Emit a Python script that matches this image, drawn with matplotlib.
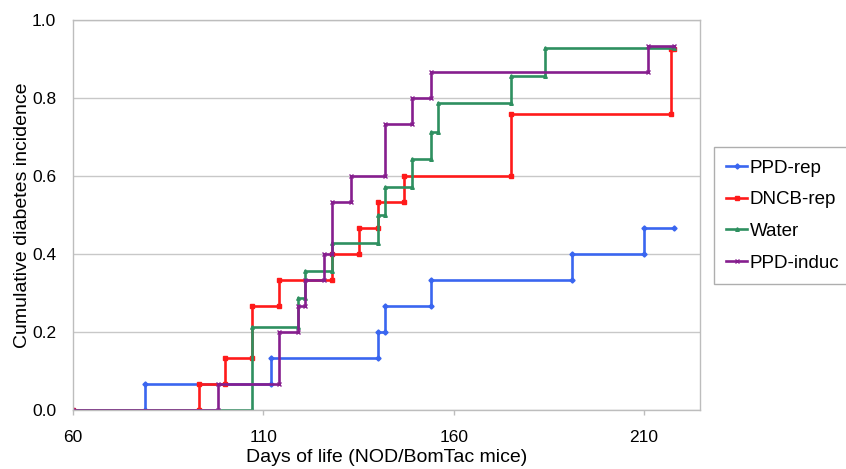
import matplotlib
matplotlib.use("Agg")
import matplotlib.pyplot as plt

plt.rcParams['font.family'] = ['Liberation Sans', 'DejaVu Sans']

start_day = 60
end_day = 218

series_names = ["PPD-rep", "DNCB-rep", "Water", "PPD-induc"]

ppd_rep_days = [79, 112, 140, 142, 154, 191, 210]
ppd_rep_vals = [0.067, 0.133, 0.200, 0.267, 0.333, 0.400, 0.467]

dncb_rep_days = [93, 100, 107, 114, 128, 135, 140, 147, 175, 217]
dncb_rep_vals = [0.067, 0.133, 0.267, 0.333, 0.400, 0.467, 0.533, 0.600, 0.760, 0.925]

water_days = [107, 119, 121, 128, 140, 142, 149, 154, 156, 175, 184]
water_vals = [0.214, 0.286, 0.357, 0.429, 0.500, 0.571, 0.643, 0.714, 0.786, 0.857, 0.929]

ppd_induc_days = [98, 114, 119, 121, 126, 128, 133, 142, 149, 154, 211]
ppd_induc_vals = [0.067, 0.200, 0.267, 0.333, 0.400, 0.533, 0.600, 0.733, 0.800, 0.867, 0.933]

x_ticks = [60, 110, 160, 210]
y_ticks = [0.0, 0.2, 0.4, 0.6, 0.8, 1.0]

colors = ["#3a66f0", "#ff1a1a", "#2e9060", "#861e8e"]
markers = ["D", "s", "^", "x"]


def corners(days, vals):
    xs = [start_day]
    ys = [0.0]
    prev = 0.0
    for d, v in zip(days, vals):
        xs += [d, d]
        ys += [prev, v]
        prev = v
    xs.append(end_day)
    ys.append(prev)
    return xs, ys


fig = plt.figure(figsize=(8.46, 4.69), dpi=100)
ax = fig.add_axes([73 / 846, 1 - 410 / 469, (700 - 73) / 846, (410 - 20) / 469])

data = [(ppd_rep_days, ppd_rep_vals), (dncb_rep_days, dncb_rep_vals),
        (water_days, water_vals), (ppd_induc_days, ppd_induc_vals)]

for (d, v), name, c, m in zip(data, series_names, colors, markers):
    xs, ys = corners(d, v)
    ax.plot(xs, ys, color=c, lw=1.9, marker=m, ms=2.6, mew=1.0, label=name,
            solid_joinstyle='miter')

ax.set_xlim(60, 224.7)
ax.set_ylim(0, 1.0)
ax.set_xticks(x_ticks)
ax.set_yticks(y_ticks)
ax.set_yticklabels([f"{t:.1f}" for t in y_ticks])
ax.yaxis.grid(True, color="#c8c8c8", lw=1.0)
ax.set_axisbelow(True)
for s in ax.spines.values():
    s.set_color("#bdbdbd")
    s.set_linewidth(1.0)
ax.tick_params(axis='x', colors="#bdbdbd", labelcolor="black", labelsize=12.5,
               length=3.6, width=1, pad=10.5)
ax.tick_params(axis='y', colors="#bdbdbd", labelcolor="black", labelsize=12.5,
               length=0, pad=12)

ax.set_xlabel("Days of life (NOD/BomTac mice)", fontsize=14, labelpad=3.5)
ax.set_ylabel("Cumulative diabetes incidence", fontsize=14, labelpad=1)

leg = fig.legend(loc="upper left", bbox_to_anchor=(714 / 846, 1 - 147.5 / 469),
                 frameon=True, fontsize=13.5, handlelength=1.1, handletextpad=0.15,
                 borderpad=0.65, labelspacing=0.77, fancybox=False,
                 borderaxespad=0)
leg.get_frame().set_edgecolor("#9a9a9a")
leg.get_frame().set_linewidth(1.0)

fig.savefig("out.png", dpi=100)
